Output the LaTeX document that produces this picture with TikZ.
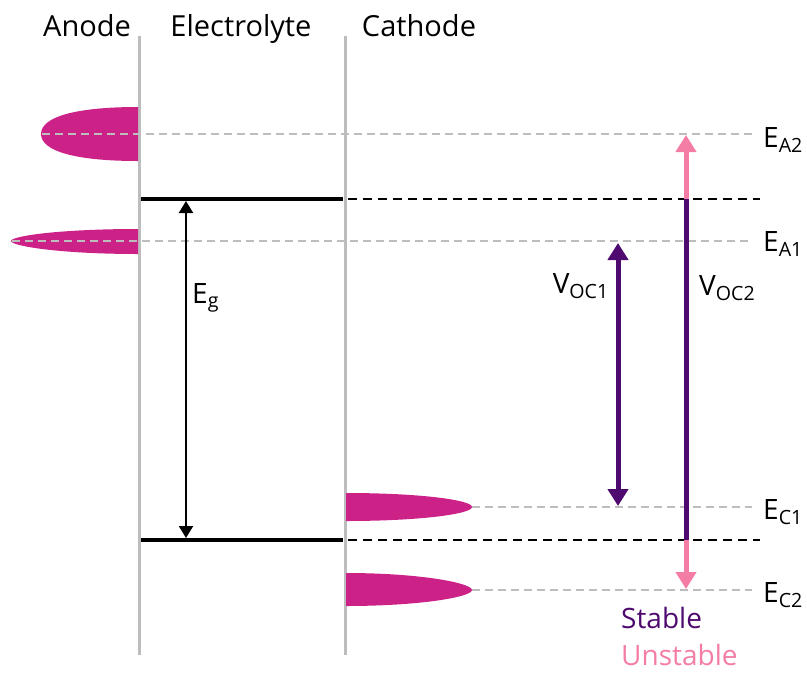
\documentclass[tikz,border=0pt]{standalone}
\usepackage{fontspec}
\setmainfont{Open Sans}
\usepackage{tikz}
\usetikzlibrary{arrows.meta,positioning}
\definecolor{Magenta}{HTML}{CC2288}
\definecolor{Purple}{HTML}{4E0A6E}
\definecolor{Pink}{HTML}{F47DA6}
\definecolor{Wall}{HTML}{BDBDBD}

\begin{document}
\begin{tikzpicture}[x=1pt,y=-1pt,
    wall/.style={Wall,line width=3pt},
    level/.style={Wall,line width=2pt,dash pattern=on 8pt off 5pt},
    band/.style={black,line width=3.5pt},
    bandext/.style={black,line width=2.5pt,dash pattern=on 9pt off 6pt},
    blob/.style={fill=Magenta,draw=none},
    lbl/.style={font=\fontsize{28}{32}\selectfont,inner sep=0pt},
    head/.style={font=\fontsize{29}{33}\selectfont,inner sep=0pt,anchor=base},
    voc/.style={Purple,line width=5pt,{Triangle[length=17pt,width=20pt]}-{Triangle[length=17pt,width=20pt]}},
    arr/.style={black,line width=2pt,{Triangle[length=12pt,width=14pt]}-{Triangle[length=12pt,width=14pt]}}
  ]
    \useasboundingbox (0,0) rectangle (807,673);
    % interfaces
    \coordinate (aw) at (139,36);
    \coordinate (cw) at (345,36);
    \draw[wall] (aw) -- (139,655);
    \draw[wall] (cw) -- (345,655);
    \node[head] (anode) at (87,36) {Anode};
    \node[head] (elyte) at (241,36) {Electrolyte};
    \node[head] (cathode) at (419,36) {Cathode};
    % redox levels
    \coordinate (ea2) at (752,134);
    \coordinate (ea1) at (752,241);
    \coordinate (ec1) at (752,507);
    \coordinate (ec2) at (752,590);
    \fill[blob] (138,107) .. controls (75,107) and (41,117) .. (41,134)
      .. controls (41,151) and (75,161) .. (138,161) -- cycle;
    \fill[blob] (138,229) .. controls (60,229) and (11,236) .. (11,241)
      .. controls (11,246) and (60,254) .. (138,254) -- cycle;
    \fill[blob] (346,493) .. controls (420,493) and (472,500) .. (472,507)
      .. controls (472,514) and (420,521) .. (346,521) -- cycle;
    \fill[blob] (346,573) .. controls (420,573) and (472,583) .. (472,590)
      .. controls (472,597) and (420,606) .. (346,606) -- cycle;
    \draw[level] (42,134) -- (ea2);
    \draw[level] (12,241) -- (ea1);
    \draw[level] (472,507) -- (ec1);
    \draw[level] (472,590) -- (ec2);
    \node[lbl,anchor=west] (la2) at (763,140) {E\textsubscript{A2}};
    \node[lbl,anchor=west] (la1) at (763,244) {E\textsubscript{A1}};
    \node[lbl,anchor=west] (lc1) at (763,512) {E\textsubscript{C1}};
    \node[lbl,anchor=west] (lc2) at (763,595) {E\textsubscript{C2}};
    % electrolyte window
    \coordinate (lumo) at (141,199);
    \coordinate (homo) at (141,540);
    \draw[band] (lumo) -- (343,199);
    \draw[band] (homo) -- (343,540);
    \draw[bandext] (348,199) -- (760,199);
    \draw[bandext] (348,540) -- (760,540);
    \draw[arr] (186,201) -- (186,538);
    \node[lbl,anchor=west] (eg) at (192,298) {E\textsubscript{g}};
    % open-circuit voltages
    \draw[voc] (618,243) -- (618,506);
    \node[lbl,anchor=east] (v1) at (609,286) {V\textsubscript{OC1}};
    \draw[voc,Pink] (686,135) -- (686,589);
    \draw[Purple,line width=5pt] (686,199) -- (686,540);
    \node[lbl,anchor=west] (v2) at (699,288) {V\textsubscript{OC2}};
    \node[lbl,anchor=west,text=Purple] (stable) at (621,618) {Stable};
    \node[lbl,anchor=west,text=Pink] (unstable) at (621,655) {Unstable};
  \end{tikzpicture}
\end{document}
